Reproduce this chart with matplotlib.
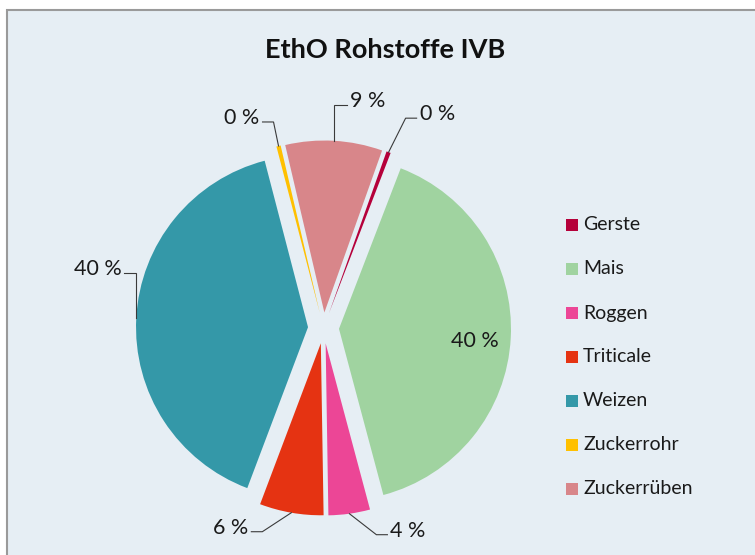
import numpy as np
import matplotlib
matplotlib.use("Agg")
import matplotlib.pyplot as plt
from matplotlib.patches import Rectangle

plt.rcParams['font.family'] = ['Lato', 'DejaVu Sans']

# ---- data ----
categories = ["Gerste", "Mais", "Roggen", "Triticale", "Weizen", "Zuckerrohr", "Zuckerrüben"]
values = [0.4, 40.0, 3.9, 6.0, 40.2, 0.4, 9.1]
colors = ["#B5003A", "#A0D3A0", "#EC4696", "#E53312", "#3498A8", "#FFC000", "#D8868A"]
title = "EthO Rohstoffe IVB"

# ---- layout (pixels, y measured downward) ----
W, H = 755, 555
BG = "#E6EEF4"
cx, cy = 323.5, 328.0
R = 172.0
explode_px = 15.5
start_cw = 19.6  # degrees clockwise from 12 o'clock

# label leader specs: (dx1, dy1, dx2) in pixels, y downward; None -> inside label
leader = [(17, -34, 11), None, (27, 21, 11), (-29, 19, -11), (0, -45, -12), (-5, -24, -11), (0, -36, 13)]

fig = plt.figure(figsize=(W / 100, H / 100), dpi=100, facecolor="white")
fig.patches.append(Rectangle((7 / W, -0.05), 1.2, 1 - 10 / H + 0.05,
                             transform=fig.transFigure, facecolor=BG,
                             edgecolor="#9A9A9A", linewidth=1.5, zorder=-5))

ax = fig.add_axes([0, 0, 1, 1])
ax.set_facecolor("none")
ax.set_zorder(2)

def Y(py):
    return H - py

wedges, _ = ax.pie(values, colors=colors, radius=R, center=(cx, Y(cy)),
                   explode=[explode_px] * len(values), startangle=90 - start_cw,
                   counterclock=False, frame=True,
                   wedgeprops=dict(linewidth=0))
ax.set_xlim(0, W)
ax.set_ylim(0, H)
ax.set_aspect("equal")
ax.axis("off")

lab_fs = 15.5
for i, w in enumerate(wedges):
    mid = np.deg2rad((w.theta1 + w.theta2) / 2)
    wcx, wcy = w.center
    label = f"{values[i]:.0f} %"
    spec = leader[i]
    if spec is None:
        tx = wcx + 0.79 * R * np.cos(mid)
        ty = wcy + 0.79 * R * np.sin(mid) - 5
        ax.text(tx, ty, label, ha="center", va="center", fontsize=lab_fs, color="#1A1A1A")
        continue
    ax_ = wcx + R * np.cos(mid)
    ay_ = wcy + R * np.sin(mid)
    dx1, dy1, dx2 = spec
    ex, ey = ax_ + dx1, ay_ - dy1
    hx = ex + dx2
    ax.plot([ax_, ex, hx], [ay_, ey, ey], color="#3A3A3A", lw=0.8, solid_joinstyle="miter")
    if dx2 > 0:
        ax.text(hx + 3, ey + 4, label, ha="left", va="center", fontsize=lab_fs, color="#1A1A1A")
    else:
        ax.text(hx - 3, ey + 4, label, ha="right", va="center", fontsize=lab_fs, color="#1A1A1A")

# title
ax.text(385, Y(50), title, ha="center", va="center", fontsize=19.5, fontweight="bold", color="#111111")

# legend (manual)
leg_x, leg_y0, leg_dy, sq = 566, 225, 44, 12
for i, (cat, col) in enumerate(zip(categories, colors)):
    yy = leg_y0 + i * leg_dy
    ax.add_patch(Rectangle((leg_x, Y(yy) - sq / 2), sq, sq, facecolor=col, edgecolor="none"))
    ax.text(leg_x + sq + 5, Y(yy), cat, ha="left", va="center", fontsize=14, color="#1A1A1A")

fig.savefig("out.png", dpi=100, facecolor="white")
